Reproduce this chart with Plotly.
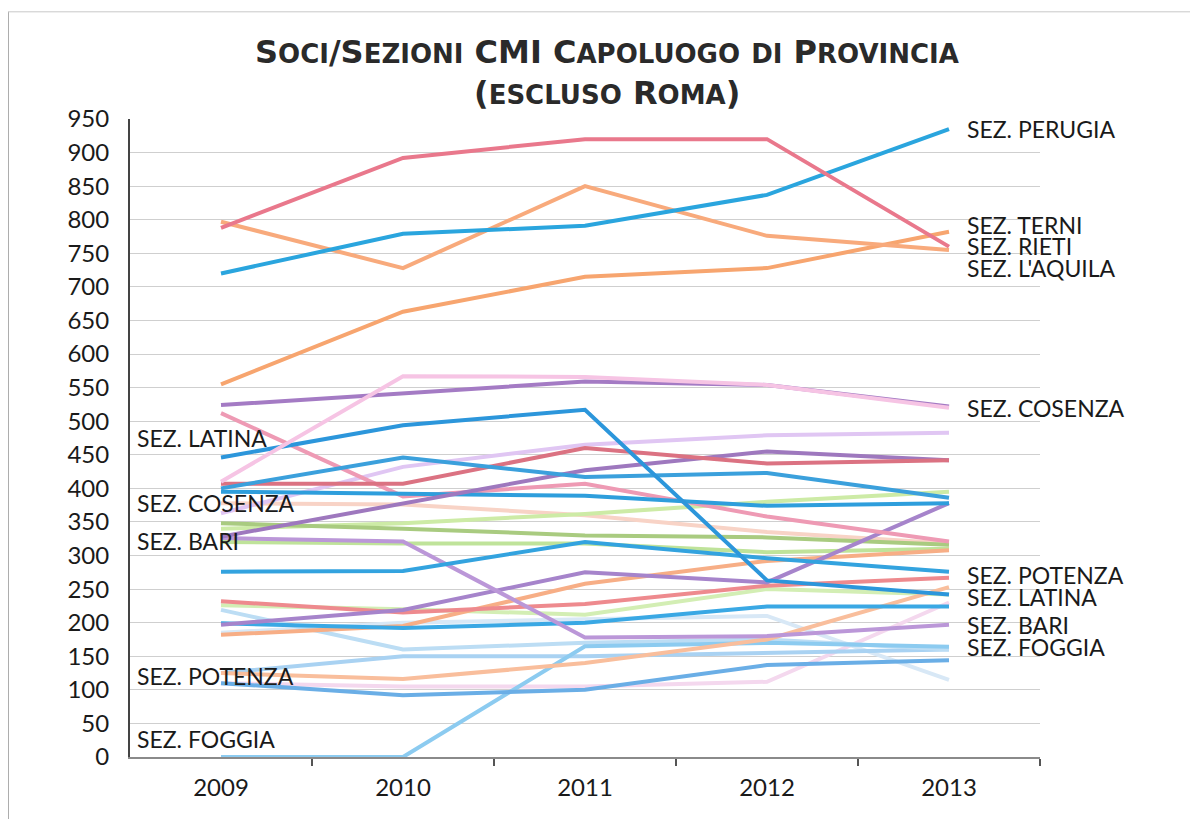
import plotly.graph_objects as go

years = [2009, 2010, 2011, 2012, 2013]

perugia   = [720, 779, 791, 837, 935]
rieti     = [788, 892, 920, 920, 760]
laquila   = [797, 728, 850, 776, 755]
terni     = [555, 663, 715, 728, 782]
cosenza   = [410, 567, 566, 554, 520]
viola1    = [524, 542, 559, 554, 522]
latina    = [446, 494, 517, 263, 242]
blu2      = [400, 446, 417, 423, 386]
rosso1    = [407, 407, 460, 437, 442]
viola2    = [328, 378, 427, 455, 442]
lavanda   = [363, 432, 465, 479, 483]
rosa2     = [512, 388, 407, 358, 321]
blu3      = [395, 392, 389, 374, 378]
pesca     = [378, 376, 360, 335, 318]
oliva     = [348, 340, 330, 327, 316]
verde1    = [320, 318, 318, 305, 310]
lime      = [340, 348, 362, 380, 395]
bari      = [326, 321, 178, 180, 197]
viola3    = [197, 219, 275, 260, 378]
potenza   = [276, 277, 320, 296, 276]
rosso2    = [232, 215, 228, 255, 267]
verde2    = [226, 220, 212, 250, 242]
blu4      = [199, 192, 200, 224, 224]
celeste1  = [219, 160, 170, 175, 160]
arancio1  = [182, 195, 258, 292, 308]
arancio2  = [125, 116, 140, 175, 253]
blu5      = [110, 92, 100, 137, 144]
celeste2  = [125, 150, 150, 155, 160]
rosa3     = [110, 105, 105, 112, 230]
foggia    = [0, 0, 165, 170, 164]
chiaro    = [185, 200, 205, 210, 115]

series = [
    ("Sez. rosa chiaro", rosa3, "#F4D8EE"),
    ("Sez. chiaro", chiaro, "#D8E8F6"),
    ("Sez. celeste 2", celeste2, "#A9D2F2"),
    ("Sez. celeste 1", celeste1, "#BCDDF4"),
    ("Sez. verde 2", verde2, "#D3EEB4"),
    ("Sez. pesca", pesca, "#F8D3C6"),
    ("Sez. lavanda", lavanda, "#E0C6F3"),
    ("Sez. lime", lime, "#CDEBA6"),
    ("Sez. verde 1", verde1, "#BFE39A"),
    ("Sez. oliva", oliva, "#A9CB80"),
    ("Sez. Foggia", foggia, "#8CCBF0"),
    ("Sez. blu 5", blu5, "#6AAEE6"),
    ("Sez. arancio 2", arancio2, "#F9BE9C"),
    ("Sez. arancio 1", arancio1, "#F7AE86"),
    ("Sez. blu 4", blu4, "#3AA8E4"),
    ("Sez. rosso 2", rosso2, "#EE8A8E"),
    ("Sez. viola 3", viola3, "#A684CB"),
    ("Sez. Bari", bari, "#BB97D8"),
    ("Sez. Potenza", potenza, "#33A3DF"),
    ("Sez. rosa 2", rosa2, "#EE9AB4"),
    ("Sez. blu 3", blu3, "#2E9EDC"),
    ("Sez. viola 2", viola2, "#9E78BE"),
    ("Sez. rosso 1", rosso1, "#DB7282"),
    ("Sez. blu 2", blu2, "#3BA0DC"),
    ("Sez. Latina", latina, "#2C96DB"),
    ("Sez. viola 1", viola1, "#A47BC4"),
    ("Sez. Cosenza", cosenza, "#F6C4E4"),
    ("Sez. Terni", terni, "#F7A56F"),
    ("Sez. L'Aquila", laquila, "#F8AA7C"),
    ("Sez. Perugia", perugia, "#2AA5DE"),
    ("Sez. Rieti", rieti, "#E9788C"),
]

right_labels = ["SEZ. PERUGIA", "SEZ. TERNI", "SEZ. RIETI", "SEZ. L'AQUILA", "SEZ. COSENZA",
                "SEZ. POTENZA", "SEZ. LATINA", "SEZ. BARI", "SEZ. FOGGIA"]
right_label_y = [935, 792, 761, 728, 520, 271, 238, 197, 164]
left_labels = ["SEZ. LATINA", "SEZ. COSENZA", "SEZ. BARI", "SEZ. POTENZA", "SEZ. FOGGIA"]
left_label_y = [475, 378, 322, 121, 27]

fig = go.Figure()
for name, vals, col in series:
    fig.add_trace(go.Scatter(x=years, y=vals, mode="lines", name=name,
                             line=dict(color=col, width=4), showlegend=False))

lab_font = dict(family="Lato, Open Sans, sans-serif", size=23, color="#1a1a1a")
for t, y in zip(right_labels, right_label_y):
    fig.add_annotation(x=2013.09, y=y, xref="x", yref="y", text=t, showarrow=False,
                       xanchor="left", yanchor="middle", font=lab_font)
for t, y in zip(left_labels, left_label_y):
    fig.add_annotation(x=2008.53, y=y, xref="x", yref="y", text=t, showarrow=False,
                       xanchor="left", yanchor="middle", font=lab_font)

sc = "font-size:26px"
title1 = (f"S<span style='{sc}'>OCI</span>/S<span style='{sc}'>EZIONI</span> CMI "
          f"C<span style='{sc}'>APOLUOGO</span> <span style='{sc}'>DI</span> "
          f"P<span style='{sc}'>ROVINCIA</span>")
title2 = f"(<span style='{sc}'>ESCLUSO</span> R<span style='{sc}'>OMA</span>)"
tfont = dict(family="DejaVu Sans, Verdana, sans-serif", size=32, color="#2a2a2a", weight="bold")
fig.add_annotation(x=0.524, y=1.105, xref="paper", yref="paper", text=title1, showarrow=False,
                   xanchor="center", yanchor="middle", font=tfont)
fig.add_annotation(x=0.524, y=1.04, xref="paper", yref="paper", text=title2, showarrow=False,
                   xanchor="center", yanchor="middle", font=tfont)

# scan frame
fig.add_shape(type="line", xref="paper", yref="paper", x0=-0.134, x1=-0.134, y0=-0.1, y1=1.168,
              line=dict(color="#9a9a9a", width=1.5))
fig.add_shape(type="line", xref="paper", yref="paper", x0=-0.134, x1=1.17, y0=1.168, y1=1.168,
              line=dict(color="#c8c8c8", width=1))

fig.update_layout(
    width=1190, height=811,
    margin=dict(l=122, r=158, t=111, b=62),
    paper_bgcolor="white", plot_bgcolor="white",
    xaxis=dict(range=[2008.5, 2013.5], tickmode="array", tickvals=years,
               ticktext=[str(y) for y in years], ticks="", showgrid=False,
               showline=True, linecolor="#8a8a8a", linewidth=1.5, ticklabelstandoff=8,
               tickfont=dict(family="Lato, Open Sans, sans-serif", size=24, color="#1a1a1a"),
               minor=dict(tickmode="array", tickvals=[2009.5, 2010.5, 2011.5, 2012.5, 2013.5],
                          ticks="outside", ticklen=7, tickcolor="#555", tickwidth=1.5, showgrid=False),
               zeroline=False),
    yaxis=dict(range=[0, 950], dtick=50, tick0=0, showgrid=True, gridcolor="#cfcfcf", gridwidth=1,
               showline=True, linecolor="#444", linewidth=2, ticks="", ticklabelstandoff=14,
               tickfont=dict(family="Lato, Open Sans, sans-serif", size=24, color="#1a1a1a"),
               zeroline=False),
)

fig.write_html("out.html")
